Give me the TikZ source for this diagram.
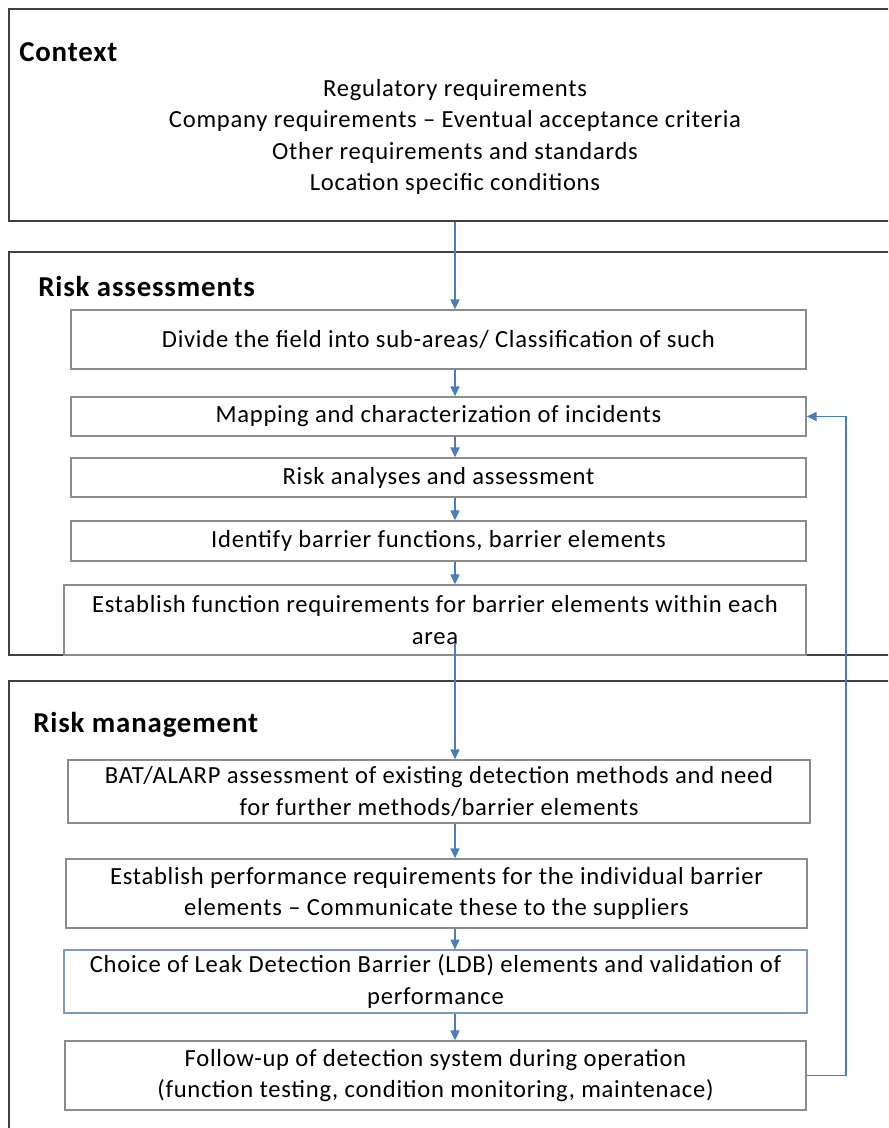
\documentclass[tikz,border=0pt]{standalone}
\usepackage{fontspec}
\setmainfont{Carlito}[LetterSpace=3]
\usetikzlibrary{arrows.meta,positioning,calc}

\definecolor{flowblue}{HTML}{4A7EBB}
\definecolor{boxgray}{HTML}{8C8C8C}
\definecolor{framegray}{HTML}{404040}
\definecolor{choiceblue}{HTML}{7D98C4}

\begin{document}
\begin{tikzpicture}[x=0.025cm, y=-0.025cm,
  group/.style={rectangle, draw=framegray, line width=1.3pt, minimum width=22.275cm},
  stage/.style={rectangle, draw=boxgray, line width=1pt, fill=white, align=center,
    font=\fontsize{17.5}{22.4}\selectfont},
  title/.style={anchor=base west, inner sep=0pt, font=\fontsize{20.5}{24}\selectfont\bfseries},
  flow/.style={draw=flowblue, line width=0.8pt, -{Triangle[length=7pt,width=6.5pt]}}]
\useasboundingbox (0,0) rectangle (888,1128);
\clip (0,0) rectangle (888,1128);

% context box
\node[group, minimum height=5.3cm, name=ctx] at (454.5,115) {};
\node[title, name=ctxtitle] at (19,62) {Context};
\node[align=center, font=\fontsize{17.5}{22.4}\selectfont, name=ctxtext] at (455,137)
  {Regulatory requirements\\ Company requirements -- Eventual acceptance criteria\\
   Other requirements and standards\\ Location specific conditions};

% risk assessment box
\node[group, minimum height=10.075cm, name=riskass] at (454.5,453.5) {};
\node[title, name=risktitle] at (38,297) {Risk assessments};

\node[stage, minimum width=18.375cm, minimum height=1.475cm, name=divide] at (438.5,339.5)
  {Divide the field into sub-areas/ Classification of such};
\node[stage, minimum width=18.375cm, minimum height=0.975cm, name=mapping] at (438.5,416.5)
  {Mapping and characterization of incidents};
\node[stage, minimum width=18.375cm, minimum height=0.975cm, name=analyses] at (438.5,477.5)
  {Risk analyses and assessment};
\node[stage, minimum width=18.375cm, minimum height=1cm, name=identify] at (438.5,541)
  {Identify barrier functions, barrier elements};
\node[stage, minimum width=18.55cm, minimum height=1.75cm, name=funcreq] at (435,620)
  {Establish function requirements for barrier elements within each\\ area};

% risk management box
\node[group, minimum height=11.475cm, name=riskman] at (454.5,910.5) {};
\node[title, name=mantitle] at (33,732) {Risk management};

\node[stage, minimum width=18.55cm, minimum height=1.575cm, name=bat] at (439,791.5)
  {BAT/ALARP assessment of existing detection methods and need\\ for further methods/barrier elements};
\node[stage, minimum width=18.525cm, minimum height=1.725cm, name=perfreq] at (436.5,893.5)
  {Establish performance requirements for the individual barrier\\ elements -- Communicate these to the suppliers};
\node[stage, draw=choiceblue, minimum width=18.575cm, minimum height=1.525cm, name=choice] at (435.5,981.5)
  {Choice of Leak Detection Barrier (LDB) elements and validation of\\ performance};
\node[stage, minimum width=18.525cm, minimum height=1.725cm, name=followup] at (435.5,1075.5)
  {Follow-up of detection system during operation\\ (function testing, condition monitoring, maintenace)};

% arrows
\coordinate (spine) at (455,0);
\coordinate (areatxt) at (455,643);
\coordinate (loop) at (846,0);
\draw[flow] (ctx.south -| spine) -- (divide.north -| spine);
\draw[flow] (divide.south -| spine) -- (mapping.north -| spine);
\draw[flow] (mapping.south -| spine) -- (analyses.north -| spine);
\draw[flow] (analyses.south -| spine) -- (identify.north -| spine);
\draw[flow] (identify.south -| spine) -- (funcreq.north -| spine);
\draw[flow] (areatxt) -- (bat.north -| spine);
\draw[flow] (bat.south -| spine) -- (perfreq.north -| spine);
\draw[flow] (perfreq.south -| spine) -- (choice.north -| spine);
\draw[flow] (choice.south -| spine) -- (followup.north -| spine);
\draw[flow] (followup.east) -- (followup.east -| loop) |- (mapping.east);
\end{tikzpicture}
\end{document}
